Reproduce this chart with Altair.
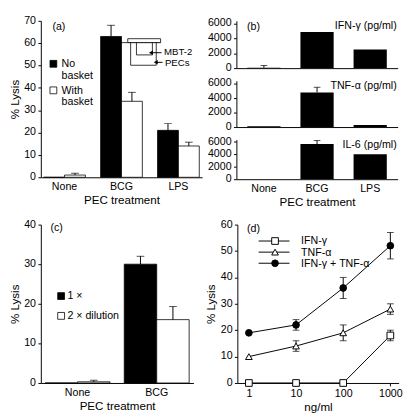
import altair as alt
import pandas as pd

FONT = "Liberation Sans"

# ---------------- data ----------------
# Panel (a)
a_treatments = ["None", "BCG", "LPS"]
a_series = ["No basket", "With basket"]
a_legend_text = ["No\nbasket", "With\nbasket"]
a_no_basket = [0, 63, 21]
a_no_basket_err = [0, 5, 3]
a_with_basket = [1, 34, 14]
a_with_basket_err = [0.8, 4, 1.7]
a_yticks = [0, 10, 20, 30, 40, 50, 60, 70]

# Panel (b)
b_treatments = ["None", "BCG", "LPS"]
b_cytokines = ["IFN-γ (pg/ml)", "TNF-α (pg/ml)", "IL-6 (pg/ml)"]
b_ifn = [50, 4850, 2500]
b_ifn_err = [300, 0, 0]
b_tnf = [100, 4750, 280]
b_tnf_err = [0, 700, 0]
b_il6 = [0, 5650, 4000]
b_il6_err = [0, 550, 0]
b_yticks = [0, 2000, 4000, 6000]

# Panel (c)
c_treatments = ["None", "BCG"]
c_series = ["1 ×", "2 × dilution"]
c_1x = [0, 30]
c_1x_err = [0, 2]
c_2x = [0.3, 16]
c_2x_err = [0.4, 3.3]
c_yticks = [0, 10, 20, 30, 40]

# Panel (d)
d_conc = [1, 10, 100, 1000]
d_series = ["IFN-γ", "TNF-α", "IFN-γ + TNF-α"]
d_ifn = [0, 0, 0, 18]
d_ifn_err = [0, 0, 0, 2]
d_tnf = [10, 14, 19, 28]
d_tnf_err = [0, 2, 3, 2]
d_both = [19, 22, 36, 52]
d_both_err = [0, 2, 4, 5]
d_yticks = [0, 10, 20, 30, 40, 50, 60]
d_shapes = ["square", "triangle-up", "circle"]
d_fills = ["white", "white", "black"]

panel_labels = ["(a)", "(b)", "(c)", "(d)"]
x_title_treat = "PEC treatment"
x_title_d = "ng/ml"
y_title = "% Lysis"
schematic_labels = ["MBT-2", "PECs"]
series_fills = ["black", "white"]

# ---------------- helpers ----------------
one = pd.DataFrame({"k": [0]})


def txt(label, x, y, align="left", baseline="middle", size=11, **kw):
    return alt.Chart(pd.DataFrame({"label": [label]})).mark_text(
        align=align, baseline=baseline, fontSize=size, font=FONT, color="black", **kw
    ).encode(x=alt.value(x), y=alt.value(y), text="label:N")


def seg(x1, x2, y1, y2, w=0.8):
    return alt.Chart(one).mark_rule(color="black", strokeWidth=w).encode(
        x=alt.value(x1), x2=alt.value(x2), y=alt.value(y1), y2=alt.value(y2)
    )


def sq(fill, x, y, size=50):
    return alt.Chart(one).mark_square(
        size=size, fill=fill, stroke="black", strokeWidth=0.8, opacity=1
    ).encode(x=alt.value(x), y=alt.value(y))


def yaxis(values, title):
    # tick labels are drawn as text marks (see ylabels) so none can be dropped
    return alt.Axis(values=values, labels=False, title=title, titlePadding=17)


def ylabels(values, title, ydom):
    return alt.Chart(pd.DataFrame({"t": values})).mark_text(
        align="right", baseline="middle", fontSize=11, font=FONT, color="black"
    ).encode(
        x=alt.value(-5),
        y=alt.Y("t:Q", scale=alt.Scale(domain=ydom, nice=False), axis=yaxis(values, title)),
        text=alt.Text("t:Q", format="d"),
    )


def grouped_bars(treatments, series, vals_list, errs_list, ydom, yticks, xpad, barw, cap):
    x = alt.X("treatment:N", sort=treatments,
              scale=alt.Scale(paddingInner=xpad[0], paddingOuter=xpad[1]),
              axis=alt.Axis(title=x_title_treat, labelAngle=0, ticks=False,
                            labelPadding=4, titlePadding=3))
    y = alt.Y("v:Q", scale=alt.Scale(domain=ydom, nice=False), axis=yaxis(yticks, y_title))
    y_top = alt.Y("top:Q", axis=yaxis(yticks, y_title))
    bar_layers, err_layers = [], []
    for i, (s, vals, errs) in enumerate(zip(series, vals_list, errs_list)):
        df = pd.DataFrame({"treatment": treatments, "v": vals, "err": errs})
        df["top"] = df["v"] + df["err"]
        off = (i - 0.5) * barw
        base = alt.Chart(df)
        bar_layers.append(base.mark_bar(fill=series_fills[i], stroke="black", strokeWidth=0.8,
                                        width=barw, xOffset=off).encode(x=x, y=y))
        eb = base.transform_filter("datum.err > 0")
        err_layers.append(eb.mark_rule(color="black", strokeWidth=1, xOffset=off).encode(
            x=x, y=y, y2="top:Q"))
        err_layers.append(eb.mark_tick(color="black", thickness=1, size=cap, orient="horizontal",
                                       xOffset=off).encode(x=x, y=y_top))
    return bar_layers + err_layers + [ylabels(yticks, y_title, ydom)]


# ---------------- panel (a) ----------------
A_W, A_H = 167, 162
a_layers = grouped_bars(a_treatments, a_series, [a_no_basket, a_with_basket],
                        [a_no_basket_err, a_with_basket_err], [0, 70], a_yticks,
                        (0.267, 0.05), 21.6, 8)
a_layers += [
    sq("black", 13, 44.5), txt(a_legend_text[0], 21.5, 39, baseline="top", lineBreak="\n", lineHeight=12),
    sq("white", 13, 72), txt(a_legend_text[1], 21.5, 66.5, baseline="top", lineBreak="\n", lineHeight=12),
    txt(panel_labels[0], 12, 6.5),
    # transwell schematic
    seg(83, 124, 22.6, 22.6),
    alt.Chart(one).mark_rect(fill="white", stroke="black", strokeWidth=0.8).encode(
        x=alt.value(90), x2=alt.value(124), y=alt.value(18.5), y2=alt.value(22.5)),
    seg(93, 93, 22.6, 46), seg(119.5, 119.5, 22.6, 46), seg(93, 119.5, 46, 46),
    seg(99, 99, 22.6, 35.3), seg(115.5, 115.5, 22.6, 35.3), seg(99, 115.5, 35.3, 35.3),
    seg(114, 125, 33, 33, 1),
    alt.Chart(one).mark_point(shape="triangle-left", size=22, filled=True, color="black", opacity=1).encode(
        x=alt.value(114), y=alt.value(33)),
    seg(119, 126, 43, 43, 1),
    alt.Chart(one).mark_point(shape="triangle-left", size=22, filled=True, color="black", opacity=1).encode(
        x=alt.value(119), y=alt.value(43)),
    txt(schematic_labels[0], 127.5, 32.5, size=10),
    txt(schematic_labels[1], 128.5, 43.5, size=10),
]
panel_a = alt.layer(*a_layers).properties(width=A_W, height=A_H)

# ---------------- panel (b) ----------------
B_W = 167
B_H = [49, 48, 41]
B_DOM = [0, 6350]


def b_panel(vals, errs, label, h, show_x, plabel=None):
    df = pd.DataFrame({"treatment": b_treatments, "v": vals, "err": errs})
    df["top"] = df["v"] + df["err"]
    x = alt.X("treatment:N", sort=b_treatments,
              scale=alt.Scale(paddingInner=0.375, paddingOuter=0.205),
              axis=alt.Axis(title=x_title_treat if show_x else None, labels=show_x, ticks=False,
                            labelAngle=0, labelPadding=4, titlePadding=3))
    y = alt.Y("v:Q", scale=alt.Scale(domain=B_DOM, nice=False), axis=yaxis(b_yticks, None))
    base = alt.Chart(df)
    bars = base.mark_bar(color="black").encode(x=x, y=y)
    eb = base.transform_filter("datum.err > 0")
    rule = eb.mark_rule(color="black", strokeWidth=1).encode(x=x, y=y, y2="top:Q")
    caps = eb.mark_tick(color="black", thickness=1, size=7, orient="horizontal").encode(
        x=x, y=alt.Y("top:Q", axis=yaxis(b_yticks, None)))
    layers = [bars, rule, caps, ylabels(b_yticks, None, B_DOM),
              txt(label, B_W - 1, 5.5, align="right")]
    if plabel:
        layers.append(txt(plabel, 11, 6))
    return alt.layer(*layers).properties(width=B_W, height=h)


b1 = b_panel(b_ifn, b_ifn_err, b_cytokines[0], B_H[0], False, panel_labels[1])
b2 = b_panel(b_tnf, b_tnf_err, b_cytokines[1], B_H[1], False)
b3 = b_panel(b_il6, b_il6_err, b_cytokines[2], B_H[2], True)
panel_b = alt.vconcat(b1, b2, b3, spacing=4)

# ---------------- panel (c) ----------------
C_W, C_H = 158, 164
c_layers = grouped_bars(c_treatments, c_series, [c_1x, c_2x], [c_1x_err, c_2x_err],
                        [0, 40], c_yticks, (0.18, 0.054), 33.6, 8)
c_layers += [
    sq("black", 21, 74), txt(c_series[0], 27.5, 74.5),
    sq("white", 21, 94.5), txt(c_series[1], 27.5, 95),
    txt(panel_labels[2], 10, 3.5),
]
panel_c = alt.layer(*c_layers).properties(width=C_W, height=C_H)

# ---------------- panel (d) ----------------
D_W, D_H = 167, 164
D_DOM = [0, 60]
rows = []
for s, vals, errs in zip(d_series, [d_ifn, d_tnf, d_both], [d_ifn_err, d_tnf_err, d_both_err]):
    for c, v, e in zip(d_conc, vals, errs):
        rows.append({"conc": c, "series": s, "v": v, "lo": v - e, "hi": v + e, "err": e})
df_d = pd.DataFrame(rows)

xd = alt.X("conc:Q", scale=alt.Scale(type="log", domain=[0.57, 1500], nice=False),
           axis=alt.Axis(values=d_conc, format="d", title=x_title_d, titlePadding=3, labelOverlap=False))
yd = alt.Y("v:Q", scale=alt.Scale(domain=D_DOM, nice=False), axis=yaxis(d_yticks, y_title))
base_d = alt.Chart(df_d)
ebd = base_d.transform_filter("datum.err > 0")
d_line = base_d.mark_line(color="black", strokeWidth=1).encode(x=xd, y=yd, detail="series:N")
d_rule = ebd.mark_rule(color="black", strokeWidth=1).encode(
    x=xd, y=alt.Y("lo:Q", axis=yaxis(d_yticks, y_title)), y2="hi:Q")
d_cap_hi = ebd.mark_tick(color="black", thickness=1, size=7, orient="horizontal").encode(
    x=xd, y=alt.Y("hi:Q", axis=yaxis(d_yticks, y_title)))
d_cap_lo = ebd.mark_tick(color="black", thickness=1, size=7, orient="horizontal").encode(
    x=xd, y=alt.Y("lo:Q", axis=yaxis(d_yticks, y_title)))
d_pts = base_d.mark_point(filled=True, stroke="black", strokeWidth=1, size=48, opacity=1).encode(
    x=xd, y=yd,
    shape=alt.Shape("series:N", scale=alt.Scale(domain=d_series, range=d_shapes), legend=None),
    fill=alt.Fill("series:N", scale=alt.Scale(domain=d_series, range=d_fills), legend=None),
)
d_layers = [d_line, d_rule, d_cap_hi, d_cap_lo, d_pts, ylabels(d_yticks, y_title, D_DOM),
            txt(panel_labels[3], 10, 4.5)]
leg_y = [17, 28.5, 40]
for i, s in enumerate(d_series):
    d_layers.append(seg(22, 54, leg_y[i], leg_y[i], 1))
    d_layers.append(alt.Chart(one).mark_point(
        shape=d_shapes[i], size=48, filled=True, fill=d_fills[i], stroke="black", strokeWidth=1, opacity=1
    ).encode(x=alt.value(39), y=alt.value(leg_y[i])))
    d_layers.append(txt(s, 66, leg_y[i] + 0.5))
panel_d = alt.layer(*d_layers).properties(width=D_W, height=D_H)

# ---------------- layout ----------------
top = alt.hconcat(panel_a, panel_b, spacing=5.5)
bottom = alt.hconcat(panel_c, panel_d, spacing=11.5)
chart = alt.vconcat(top, bottom, spacing=12).properties(
    padding={"left": 0, "top": 0, "right": 0, "bottom": 0}, background="white"
).configure_view(stroke=None).configure_axis(
    domainColor="black", domainWidth=1, tickColor="black", tickWidth=1, tickSize=3,
    labelColor="black", titleColor="black", labelFont=FONT, titleFont=FONT,
    labelFontSize=11, titleFontSize=12, titleFontWeight="normal", grid=False, labelPadding=2,
    labelOverlap=False,
).configure_text(font=FONT)

chart.save("out.html", embed_options={"renderer": "svg", "actions": False})
